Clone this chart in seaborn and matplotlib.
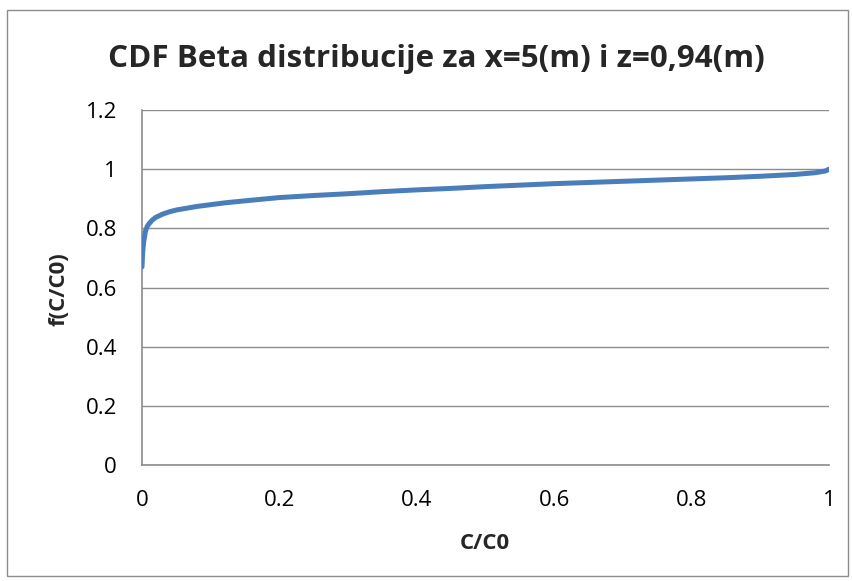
import matplotlib
matplotlib.use("Agg")
import matplotlib.pyplot as plt
import seaborn as sns
import pandas as pd
from matplotlib.patches import Rectangle

# Data
c_ratio = [0.0, 0.001, 0.0025, 0.005, 0.0075, 0.01, 0.015, 0.02, 0.03, 0.04,
           0.05, 0.06, 0.08, 0.1, 0.12, 0.15, 0.2, 0.25, 0.3, 0.35,
           0.4, 0.45, 0.5, 0.55, 0.6, 0.65, 0.7, 0.75, 0.8, 0.85,
           0.9, 0.95, 0.98, 0.995, 1.0]
cdf_vals = [0.670, 0.720, 0.755, 0.790, 0.806, 0.815, 0.828, 0.837, 0.848, 0.856,
            0.862, 0.866, 0.874, 0.880, 0.886, 0.893, 0.904, 0.911, 0.917, 0.924,
            0.930, 0.935, 0.941, 0.946, 0.951, 0.955, 0.959, 0.963, 0.967, 0.971,
            0.976, 0.982, 0.988, 0.994, 1.000]
x_ticks = [0, 0.2, 0.4, 0.6, 0.8, 1]
x_tick_labels = ["0", "0.2", "0.4", "0.6", "0.8", "1"]
y_ticks = [0, 0.2, 0.4, 0.6, 0.8, 1.0, 1.2]
y_tick_labels = ["0", "0.2", "0.4", "0.6", "0.8", "1", "1.2"]
title = "CDF Beta distribucije za x=5(m) i z=0,94(m)"
x_label = "C/C0"
y_label = "f(C/C0)"

sns.set_theme(style="white")
plt.rcParams["font.family"] = ["Open Sans", "DejaVu Sans"]

df = pd.DataFrame({"c": c_ratio, "f": cdf_vals})

W, H = 853, 581
fig = plt.figure(figsize=(W / 100, H / 100), dpi=100)
fig.patch.set_facecolor("white")
# outer chart border
fig.add_artist(Rectangle((7 / W, 5 / H), 841 / W, 566 / H, transform=fig.transFigure,
                         fill=False, edgecolor="#8c8c8c", linewidth=1.0))

left, right = 142 / W, 829 / W
top, bottom = 1 - 110 / H, 1 - 465 / H
ax = fig.add_axes([left, bottom, right - left, top - bottom])

sns.lineplot(data=df, x="c", y="f", ax=ax, color="#4a7ebb", linewidth=3.6,
             solid_capstyle="round", zorder=3)

ax.set_xlim(0, 1)
ax.set_ylim(0, 1.2)
ax.set_xticks(x_ticks)
ax.set_xticklabels(x_tick_labels)
ax.set_yticks(y_ticks)
ax.set_yticklabels(y_tick_labels)
ax.tick_params(axis="both", length=0, labelsize=16, colors="black")
ax.tick_params(axis="x", pad=18)
ax.tick_params(axis="y", pad=18)

ax.grid(axis="y", color="#8c8c8c", linewidth=1.0)
ax.grid(axis="x", visible=False)
for side in ["top", "right"]:
    ax.spines[side].set_visible(False)
for side in ["left", "bottom"]:
    ax.spines[side].set_color("#8c8c8c")
    ax.spines[side].set_linewidth(1.2)

ax.set_xlabel("")
ax.set_ylabel("")

fig.text(485 / W, 1 - 549 / H, x_label, ha="center", va="baseline",
         fontsize=16, fontweight="bold")
fig.text(59 / W, 1 - 289.5 / H, y_label, ha="center", va="center", rotation=90,
         fontsize=16, fontweight="bold")
fig.text(436 / W, 1 - 67 / H, title, ha="center", va="baseline",
         fontsize=22.6, fontweight="bold")

fig.savefig("out.png", dpi=100, facecolor="white")
